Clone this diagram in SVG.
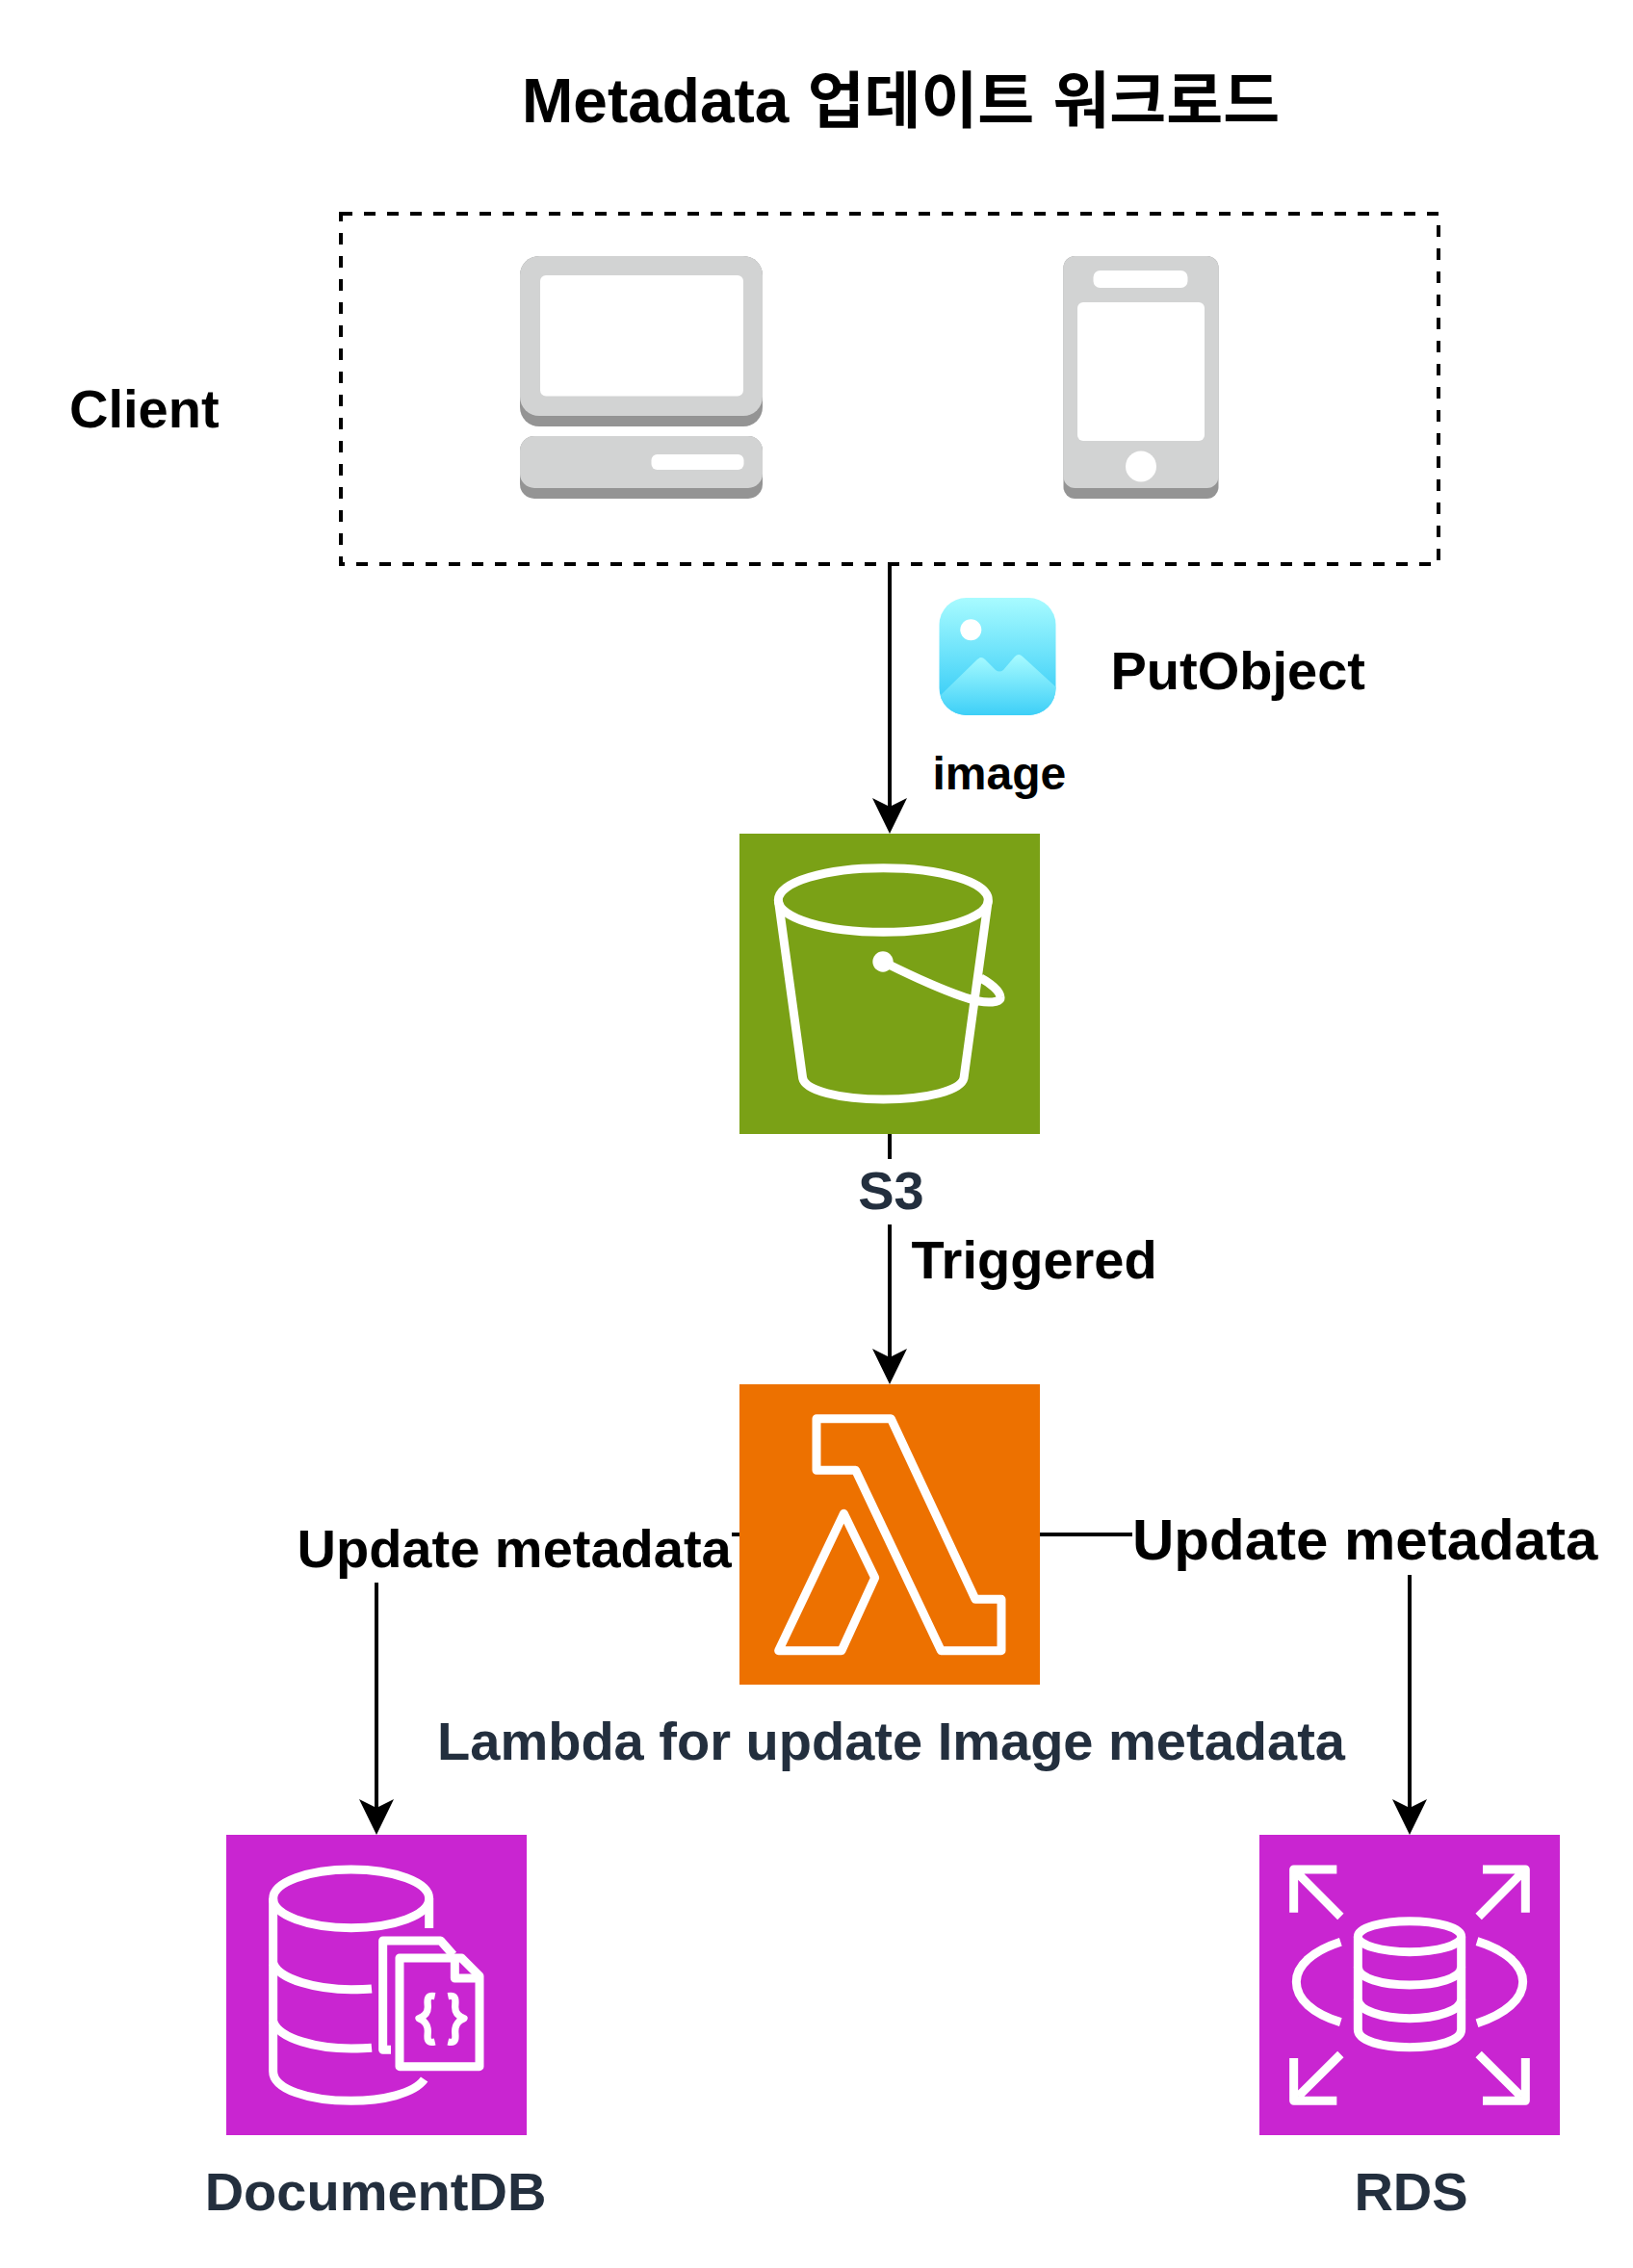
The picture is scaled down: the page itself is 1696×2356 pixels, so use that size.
<svg xmlns="http://www.w3.org/2000/svg" width="1696" height="2356" viewBox="0 0 1696 2356">
<style>
text{font-family:"Liberation Sans","Noto Sans CJK KR",sans-serif;font-weight:700;fill:#000}
.f56{font-size:56px}.f60{font-size:60px}.f64{font-size:64px}.f48{font-size:48px}
.dark{fill:#232F3E}.mid{text-anchor:middle}
.edge{fill:none;stroke:#000;stroke-width:4}
.head{fill:#000;stroke:none}
.bg{fill:#fff;stroke:none}
.ico{fill:none;stroke:#fff;stroke-linejoin:round}
.light{fill:#D2D3D3}.shade{fill:#949494}.hole{fill:#fff}
</style>
<defs>
<linearGradient id="sky" gradientUnits="userSpaceOnUse" x1="0" y1="621" x2="0" y2="725"><stop offset="0" stop-color="#A8FBFF"/><stop offset="1" stop-color="#3DCFF7"/></linearGradient>
<linearGradient id="hill" gradientUnits="userSpaceOnUse" x1="0" y1="680" x2="0" y2="743"><stop offset="0" stop-color="#A8FBFF"/><stop offset="1" stop-color="#3DCFF7"/></linearGradient>
<clipPath id="imgclip"><rect x="975.500" y="621" width="121" height="122" rx="28"/></clipPath>
<path id="ah" class="head" d="M0 0L-18 -37L0 -28L18 -37Z"/>
</defs>
<rect width="1696" height="2356" fill="#fff"/>
<g id="title"><text class="f64" x="542" y="127" word-spacing="1.500">Metadata 업데이트 워크로드</text></g>
<g id="client-label"><text class="f56" x="72" y="444">Client</text></g>
<g id="connectors">
<path class="edge" d="M924 586V838"/>
<use href="#ah" x="924" y="866"/>
<path class="edge" d="M924 1178V1410"/>
<use href="#ah" x="924" y="1438"/>
<path class="edge" d="M768 1594H391V1878"/>
<use href="#ah" x="391" y="1906"/>
<path class="edge" d="M1080 1594H1464V1878"/>
<use href="#ah" x="1464" y="1906"/>
<rect class="bg" x="306" y="1572" width="454" height="72"/>
<text class="f56" x="308.500" y="1627.500">Update metadata</text>
<rect class="bg" x="1176" y="1560" width="486" height="76"/>
<text class="f60" x="1176" y="1619.500">Update metadata</text>
<text class="f48" x="968.500" y="819.500">image</text>
<text class="f56" x="1153.500" y="716">PutObject</text>
<text class="f56" x="946.500" y="1327.500">Triggered</text>
</g>
<g id="client-box"><rect x="354" y="222" width="1140" height="364" fill="none" stroke="#000" stroke-width="4" stroke-dasharray="12 12"/></g>
<g id="desktop">
<rect class="shade" x="540" y="266" width="252" height="177" rx="20"/>
<rect class="light" x="540" y="266" width="252" height="166" rx="20"/>
<rect class="hole" x="561" y="286" width="211" height="125.500" rx="6"/>
<rect class="shade" x="540" y="453" width="252" height="65" rx="15"/>
<rect class="light" x="540" y="453" width="252" height="54" rx="15"/>
<rect class="hole" x="676.500" y="472" width="96" height="16" rx="6"/>
</g>
<g id="phone">
<rect class="shade" x="1104.500" y="266" width="161" height="252" rx="12"/>
<rect class="light" x="1104.500" y="266" width="161" height="241" rx="12"/>
<rect class="hole" x="1135.500" y="281" width="98" height="18" rx="7"/>
<rect class="hole" x="1119" y="314" width="132" height="144" rx="6"/>
<circle class="hole" cx="1185" cy="484.500" r="16"/>
</g>
<g id="image-icon">
<rect x="975.500" y="621" width="121" height="122" rx="28" fill="url(#sky)"/>
<circle cx="1008.300" cy="654.300" r="11" fill="#fff"/>
<path clip-path="url(#imgclip)" fill="url(#hill)" d="M975 724L1015 685Q1019 681 1023 685L1034 696Q1038 699 1042 696L1054 682Q1058 678 1062 682L1098 715V745H975Z"/>
</g>
<g id="s3">
<rect x="768" y="866" width="312" height="312" fill="#7AA116"/>
<g transform="translate(768 866) scale(.33333)">
<g class="ico" stroke-width="27">
<path d="M121,207C121,150 270,107 448,107C626,107 775,150 775,207C775,264 626,307 448,307C270,307 121,264 121,207Z"/>
<path d="M121,207L197,762C205,800 310,828 448,828C586,828 690,800 699,762L775,207"/>
<path d="M447,399C560,455 660,500 735,520C770,528 815,528 813,510C812,490 780,465 752,450"/>
</g>
<circle cx="447" cy="399" r="32" fill="#fff"/>
</g>
<rect class="bg" x="888" y="1204" width="74" height="68"/>
<text class="f56 dark mid" x="925.500" y="1256">S3</text>
</g>
<g id="lambda">
<rect x="768" y="1438" width="312" height="312" fill="#ED7100"/>
<g class="ico" stroke-width="27" transform="translate(768 1438) scale(.33333)">
<path d="M240,107L472,107L735,670L816,670L816,830L628,830L362,268L240,268Z"/>
<path d="M325,403L122,830L318,830L422,603Z"/>
</g>
<text class="f56 dark mid" x="925.500" y="1827.500">Lambda for update Image metadata</text>
</g>
<g id="documentdb">
<rect x="235" y="1906" width="312" height="312" fill="#C925D1"/>
<g class="ico" stroke-width="27" transform="translate(200 1880) scale(.33333)">
<path d="M251,277C251,226 360,186 494,186C628,186 737,226 737,277C737,328 628,368 494,368C360,368 251,328 251,277Z"/>
<path d="M251,277L251,815C251,870 360,907 494,907C590,907 690,885 722,840"/>
<path d="M737,277L737,369"/>
<path d="M251,478C270,530 390,560 494,560C515,560 535,560 558,558"/>
<path d="M251,660C270,715 390,744 494,744C515,744 535,744 558,742"/>
<path d="M618,748L593,748L593,408L773,408L812,452"/>
<path d="M645,462L838,462L894,518L894,800L645,800Z"/>
<path d="M817,462L817,525L894,525"/>
<path stroke-width="22" d="M755,581C725,575 733,600 733,615C733,635 720,645 705,650C720,655 733,670 733,690C733,705 725,730 755,723"/>
<path stroke-width="22" d="M796,581C826,575 818,600 818,615C818,635 831,645 846,650C831,655 818,670 818,690C818,705 826,730 796,723"/>
</g>
<text class="f56 dark mid" x="390" y="2296">DocumentDB</text>
</g>
<g id="rds">
<rect x="1308" y="1906" width="312" height="312" fill="#C925D1"/>
<g class="ico" stroke-width="27" transform="translate(1270 1880) scale(.33333)">
<path d="M355,186L221,186L221,320M235,200L367,333"/>
<path d="M810,186L943,186L943,320M929,200L797,333"/>
<path d="M221,774L221,907L355,907M235,893L367,762"/>
<path d="M943,774L943,907L810,907M929,893L797,762"/>
<path d="M367,412C280,440 229,485 229,536C229,590 280,635 367,662"/>
<path d="M792,410C880,437 935,485 935,536C935,590 880,637 792,665"/>
<path d="M421,395C421,368 495,347 582,347C669,347 743,368 743,395C743,422 669,443 582,443C495,443 421,422 421,395Z"/>
<path d="M421,395L421,685C421,720 495,740 582,740C669,740 743,720 743,685L743,395"/>
<path d="M421,490C421,525 495,546 582,546C669,546 743,525 743,490"/>
<path d="M421,590C421,625 495,650 582,650C669,650 743,625 743,590"/>
</g>
<text class="f56 dark mid" x="1465.500" y="2296">RDS</text>
</g>
</svg>
